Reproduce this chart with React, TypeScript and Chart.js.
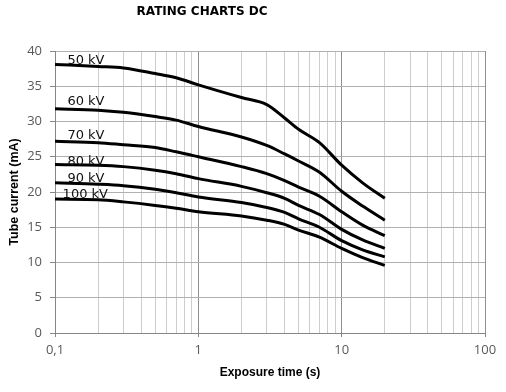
import React, { useEffect, useRef } from "react";
import { Chart, registerables } from "chart.js";

Chart.register(...registerables);

const TITLE = "RATING CHARTS DC";
const X_TITLE = "Exposure time (s)";
const Y_TITLE = "Tube current (mA)";

// exposure times (s)
const TIMES = [0.1, 0.2, 0.3, 0.5, 0.7, 1, 2, 3, 4, 5, 7, 10, 14, 20];

// tube current (mA) per tube voltage
const KV50 = [38.1, 37.8, 37.6, 36.8, 36.2, 35.2, 33.4, 32.4, 30.5, 28.9, 27.0, 23.8, 21.3, 19.1];
const KV60 = [31.8, 31.6, 31.3, 30.7, 30.2, 29.3, 27.8, 26.6, 25.4, 24.4, 22.8, 20.1, 18.0, 16.0];
const KV70 = [27.2, 27.0, 26.7, 26.3, 25.7, 25.0, 23.6, 22.6, 21.6, 20.7, 19.4, 17.2, 15.3, 13.8];
const KV80 = [23.9, 23.8, 23.6, 23.1, 22.6, 21.9, 20.8, 19.9, 19.1, 18.1, 16.8, 14.7, 13.2, 12.0];
const KV90 = [21.3, 21.1, 20.9, 20.4, 19.9, 19.3, 18.5, 17.8, 17.1, 16.2, 15.0, 13.1, 11.8, 10.8];
const KV100 = [19.0, 18.9, 18.6, 18.1, 17.7, 17.2, 16.6, 16.0, 15.4, 14.6, 13.6, 12.0, 10.7, 9.6];

const SERIES_NAMES = ["50 kV", "60 kV", "70 kV", "80 kV", "90 kV", "100 kV"];
const SERIES = [KV50, KV60, KV70, KV80, KV90, KV100];

// curve label anchors (data units: time, current)
const LABEL_X = [0.122, 0.122, 0.122, 0.122, 0.122, 0.113];
const LABEL_Y = [38.2, 32.3, 27.5, 23.9, 21.4, 19.1];

// x-axis ticks (log grid) and labels
const X_GRID = [
  0.1, 0.2, 0.3, 0.4, 0.5, 0.6, 0.7, 0.8, 0.9,
  1, 2, 3, 4, 5, 6, 7, 8, 9,
  10, 20, 30, 40, 50, 60, 70, 80, 90, 100,
];
const X_MAJOR = [0.1, 1, 10, 100];
const X_MAJOR_LABELS = ["0,1", "1", "10", "100"];

const Y_MIN = 0;
const Y_MAX = 40;
const Y_STEP = 5;

const isMajor = (v: number) => X_MAJOR.some((m) => Math.abs(m - v) < 1e-9);

const overlayPlugin = {
  id: "overlay",
  afterDatasetsDraw(chart: any) {
    const { ctx, scales } = chart;
    ctx.save();
    ctx.fillStyle = "#111";
    ctx.font = "13px 'DejaVu Sans'";
    ctx.textAlign = "left";
    ctx.textBaseline = "alphabetic";
    SERIES_NAMES.forEach((name, i) => {
      const x = scales.x.getPixelForValue(LABEL_X[i]);
      const y = scales.y.getPixelForValue(LABEL_Y[i]);
      ctx.fillText(name, x, y);
    });
    ctx.font = "bold 12px 'DejaVu Sans'";
    ctx.textAlign = "center";
    ctx.textBaseline = "middle";
    ctx.fillStyle = "#000";
    ctx.fillText(TITLE, 202, 12);
    ctx.restore();
  },
};

export default function App() {
  const ref = useRef<HTMLCanvasElement | null>(null);

  useEffect(() => {
    if (!ref.current) return;
    const chart = new Chart(ref.current, {
      type: "line",
      data: {
        datasets: SERIES.map((vals, i) => ({
          label: SERIES_NAMES[i],
          data: TIMES.map((t, j) => ({ x: t, y: vals[j] })),
          borderColor: "#000",
          borderWidth: 3,
          pointRadius: 0,
          fill: false,
          cubicInterpolationMode: "monotone" as const,
        })),
      },
      options: {
        responsive: false,
        animation: false,
        layout: { padding: { left: 0, right: 21, top: 51, bottom: 0 } },
        plugins: {
          legend: { display: false },
          title: { display: false },
          tooltip: { enabled: false },
        },
        scales: {
          x: {
            type: "logarithmic",
            min: 0.1,
            max: 100,
            afterBuildTicks: (scale: any) => {
              scale.ticks = X_GRID.map((v) => ({ value: v }));
            },
            afterFit: (scale: any) => {
              scale.height = 59;
            },
            ticks: {
              autoSkip: false,
              maxRotation: 0,
              color: "#595959",
              font: { family: "'Open Sans'", size: 13 },
              padding: 5,
              callback: (value: any) => {
                const idx = X_MAJOR.findIndex((m) => Math.abs(m - Number(value)) < 1e-9);
                return idx >= 0 ? X_MAJOR_LABELS[idx] : "";
              },
            },
            grid: {
              color: (c: any) => (c.tick && isMajor(c.tick.value) ? "#8e8e8e" : "#cdcdcd"),
              tickColor: (c: any) => (c.tick && isMajor(c.tick.value) ? "#868686" : "rgba(0,0,0,0)"),
              tickLength: 4,
              lineWidth: 1,
            },
            border: { color: "#868686" },
            title: {
              display: true,
              text: X_TITLE,
              color: "#000",
              font: { family: "'Liberation Sans'", size: 12, weight: "bold" },
              padding: { top: 0, bottom: 12 },
            },
          },
          y: {
            type: "linear",
            min: Y_MIN,
            max: Y_MAX,
            afterFit: (scale: any) => {
              scale.width = 55;
            },
            ticks: {
              stepSize: Y_STEP,
              color: "#595959",
              font: { family: "'Open Sans'", size: 13 },
              padding: 8,
            },
            grid: {
              color: "#b0b0b0",
              tickColor: "#868686",
              tickLength: 5,
            },
            border: { color: "#868686" },
            title: {
              display: true,
              text: Y_TITLE,
              color: "#000",
              font: { family: "'Liberation Sans'", size: 12.5, weight: "bold" },
              padding: { top: 7, bottom: 0 },
            },
          },
        },
      },
      plugins: [overlayPlugin],
    } as any);
    return () => chart.destroy();
  }, []);

  return (
    <div style={{ position: "fixed", left: 0, top: 0, width: 506, height: 392, background: "#fff" }}>
      <canvas ref={ref} width={506} height={392} style={{ display: "block" }} />
    </div>
  );
}
